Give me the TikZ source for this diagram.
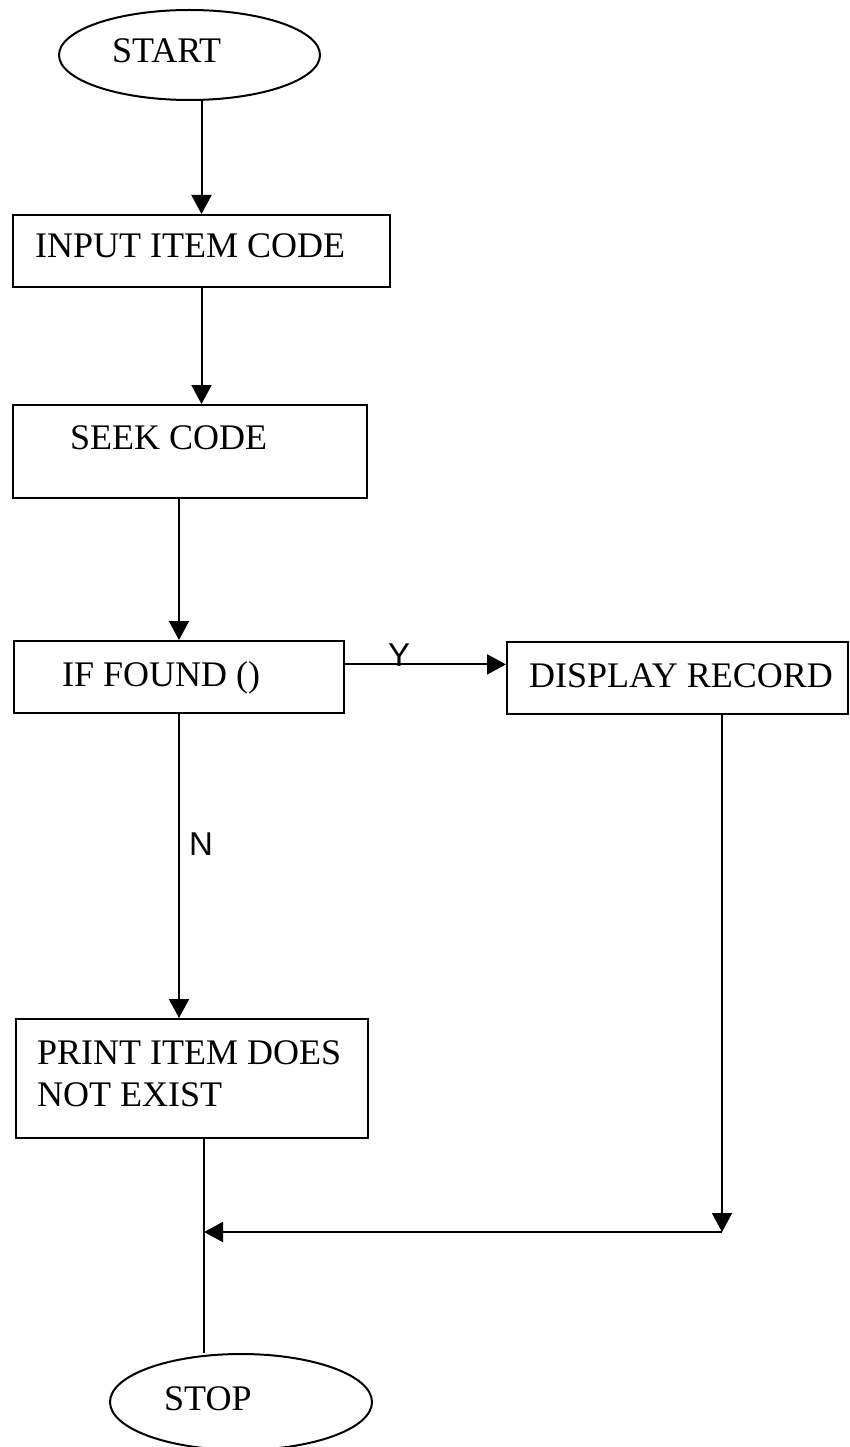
\documentclass[tikz,border=0pt]{standalone}
\usepackage{fontspec}
\setmainfont{Liberation Serif}
\newfontfamily\lblfont{Liberation Sans}
\usetikzlibrary{arrows.meta,shapes.geometric,calc}
\tikzset{
  box/.style={draw, rectangle, inner sep=0pt, line width=2pt},
  term/.style={draw, ellipse, inner sep=0pt, line width=2pt},
  txt/.style={anchor=base west, inner sep=0pt, font=\fontsize{36}{42}\selectfont},
  yn/.style={anchor=base west, inner sep=0pt, font=\lblfont\fontsize{33}{40}\selectfont},
  conn/.style={line width=2pt},
  arr/.style={line width=2pt, -{Triangle[length=19pt,width=20pt]}}
}
\begin{document}
\begin{tikzpicture}[x=1pt,y=-1pt]
\useasboundingbox (0,0) rectangle (850,1447);
% shapes
\node[term, minimum width=261pt, minimum height=90pt] (start) at (189.5,55) {};
\node[box, minimum width=377pt, minimum height=72pt] (input) at (201.5,251) {};
\node[box, minimum width=354pt, minimum height=93pt] (seek) at (190,451.5) {};
\node[box, minimum width=330pt, minimum height=72pt] (iffound) at (179,677) {};
\node[box, minimum width=341pt, minimum height=72pt] (display) at (677.5,678) {};
\node[box, minimum width=352pt, minimum height=119pt] (print) at (192,1078.5) {};
\node[term, minimum width=262pt, minimum height=96pt] (stop) at (241,1402) {};
% texts
\node[txt] (tstart) at (112,63) {START};
\node[txt] (tinput) at (35,258) {INPUT ITEM CODE};
\node[txt] (tseek) at (70,449) {SEEK CODE};
\node[txt] (tif) at (62,686) {IF FOUND ()};
\node[txt] (tdisp) at (529,687) {DISPLAY RECORD};
\node[txt] (tprint1) at (37,1064) {PRINT ITEM DOES};
\node[txt] (tprint2) at (37,1106) {NOT EXIST};
\node[txt] (tstop) at (164,1410) {STOP};
\node[yn] (ylab) at (388,666) {Y};
\node[yn] (nlab) at (189,855) {N};
% junctions
\coordinate (ya) at ($(iffound.north east)!0.33!(iffound.south east)$);
\coordinate (j) at (204,1232);
\coordinate (k) at (722,1232);
% connectors
\draw[arr] (input.north |- start.south) -- (input.north);
\draw[arr] (input.south) -- (input.south |- seek.north);
\draw[arr] (iffound.north |- seek.south) -- (iffound.north);
\draw[arr] (ya) -- (ya -| display.west);
\draw[arr] (iffound.south) -- (iffound.south |- print.north);
\draw[conn] (j |- print.south) -- (j |- stop.north);
\draw[arr] (k |- display.south) -- (k);
\draw[arr] (k) -- (j);
\end{tikzpicture}
\end{document}
